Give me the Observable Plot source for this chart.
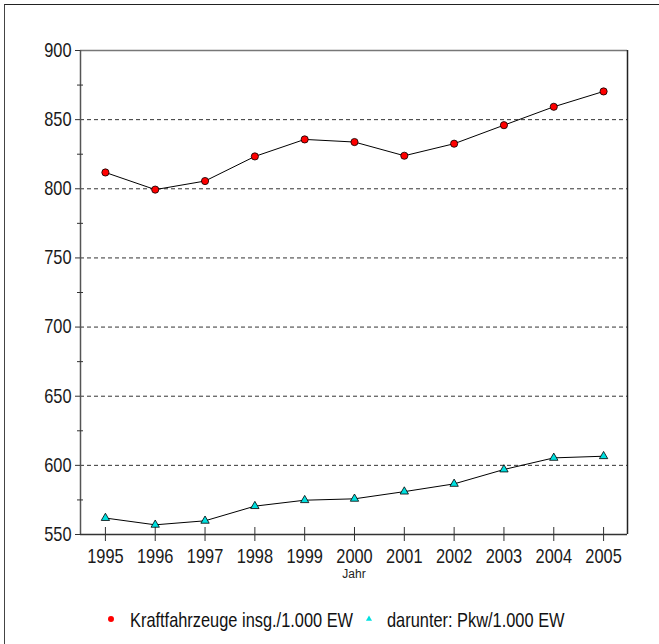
<!DOCTYPE html>
<html>
<head>
<meta charset="utf-8">
<script src="https://cdn.jsdelivr.net/npm/d3@7"></script>
<script src="https://cdn.jsdelivr.net/npm/@observablehq/plot@0.6"></script>
<style>
  body { margin: 0; background: #fff; }
  #wrap { position: relative; width: 659px; height: 644px; overflow: hidden; background: #fff;
          font-family: "Liberation Sans", Arial, sans-serif; }
  #border { position: absolute; left: 4px; top: 4px; width: 700px; height: 700px;
            border-left: 1.5px solid #444; border-top: 1.5px solid #222; }
  #chart { position: absolute; left: 0; top: 0; }
  #legend { position: absolute; left: 0; top: 600px; }
  svg { display: block; }
</style>
</head>
<body>
<div id="wrap">
  <div id="border"></div>
  <div id="chart"></div>
  <div id="legend"></div>
</div>
<script>
// ---- data ----
const years = [1995, 1996, 1997, 1998, 1999, 2000, 2001, 2002, 2003, 2004, 2005];
const kfz = [811.8, 799.4, 805.6, 823.4, 835.7, 833.8, 823.9, 832.6, 846.0, 859.3, 870.4];
const pkw = [561.9, 557.0, 559.9, 570.5, 574.8, 575.8, 581.0, 586.6, 597.0, 605.4, 606.6];
const yTicks = [550, 600, 650, 700, 750, 800, 850, 900];
const yMinorTicks = [575, 625, 675, 725, 775, 825, 875];
const gridValues = [600, 650, 700, 750, 800, 850];
const seriesNames = ["Kraftfahrzeuge insg./1.000 EW", "darunter: Pkw/1.000 EW"];
const seriesColors = ["#ff0000", "#00e0e0"];
const xLabel = "Jahr";

const rows = years.map((year, i) => ({ year, kfz: kfz[i], pkw: pkw[i] }));
const xDomain = [1994.5, 2005.48];
const yDomain = [550, 900];
const NARROW = 0.82; // emulate a narrow (Arial Narrow-like) face

const chart = Plot.plot({
  width: 659,
  height: 590,
  marginLeft: 80,
  marginRight: 32,
  marginTop: 50,
  marginBottom: 56,
  style: { background: "none", color: "#1a1a1a", fontFamily: '"Liberation Sans", Arial, sans-serif' },
  x: { domain: xDomain },
  y: { domain: yDomain },
  marks: [
    Plot.ruleY(gridValues, { stroke: "#333", strokeDasharray: "4,3" }),
    Plot.ruleY([yDomain[1]], { stroke: "#777", strokeWidth: 1.5 }),
    Plot.ruleX([xDomain[1]], { stroke: "#222", strokeWidth: 1.5 }),
    Plot.ruleX([xDomain[0]], { stroke: "#555", strokeWidth: 1.5 }),
    Plot.ruleY([yDomain[0]], { stroke: "#333", strokeWidth: 1.5 }),
    Plot.ruleY(yMinorTicks, { x1: xDomain[0], x2: xDomain[0], insetLeft: -3, insetRight: -3, stroke: "#333" }),
    Plot.ruleX(years, { y1: yDomain[0], y2: yDomain[0], insetTop: -7, insetBottom: -7, stroke: "#333" }),
    Plot.axisY({ ticks: yTicks, tickSize: 5, tickPadding: 4, fontSize: 20, stroke: "#333", label: null }),
    Plot.axisX({ ticks: years, tickFormat: d => String(d), tickSize: 0, tickPadding: 14.5, fontSize: 20, label: null }),
    Plot.text([xLabel], { frameAnchor: "bottom", dy: 43, fontSize: 12, fill: "#222" }),
    Plot.line(rows, { x: "year", y: "kfz", stroke: "#000", strokeWidth: 1 }),
    Plot.dot(rows, { x: "year", y: "kfz", r: 3.6, fill: seriesColors[0], stroke: "#000", strokeWidth: 0.8 }),
    Plot.line(rows, { x: "year", y: "pkw", stroke: "#000", strokeWidth: 1 }),
    Plot.dot(rows, { x: "year", y: "pkw", symbol: "triangle", r: 3.1, fill: seriesColors[1], stroke: "#000", strokeWidth: 0.8 })
  ]
});

// condense axis tick labels horizontally
chart.querySelectorAll('g[aria-label="y-axis tick label"] text, g[aria-label="x-axis tick label"] text').forEach(t => {
  const tr = t.getAttribute("transform");
  if (tr) t.setAttribute("transform", tr + ` scale(${NARROW},1)`);
});
document.getElementById("chart").appendChild(chart);

// ---- legend ----
const ls = d3.create("svg").attr("width", 659).attr("height", 44)
  .style("font-family", '"Liberation Sans", Arial, sans-serif');
const legendItems = [
  { sym: d3.symbolCircle, size: 28, sx: 111, tx: 130 },
  { sym: d3.symbolTriangle, size: 16, sx: 369, tx: 387 }
];
legendItems.forEach((it, i) => {
  ls.append("path").attr("transform", `translate(${it.sx},19)`)
    .attr("d", d3.symbol(it.sym, it.size)()).attr("fill", seriesColors[i]);
  ls.append("text").attr("transform", `translate(${it.tx},27) scale(${NARROW},1)`)
    .attr("font-size", 20).attr("fill", "#111").text(seriesNames[i]);
});
document.getElementById("legend").appendChild(ls.node());
</script>
</body>
</html>
